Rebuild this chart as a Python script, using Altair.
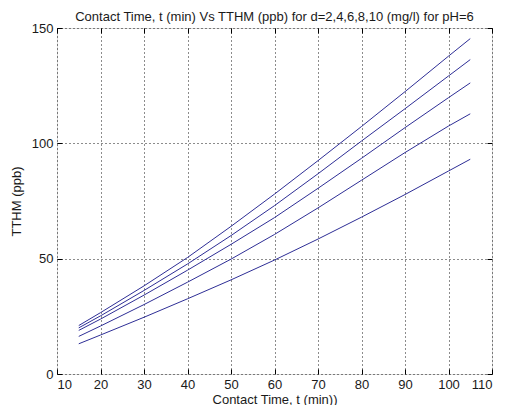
import altair as alt
import pandas as pd

# Contact time (min)
t_vals = [15, 20, 30, 40, 50, 60, 70, 80, 90, 100, 105]
# TTHM (ppb) for each dose d (mg/l)
d_labels = ["d=2", "d=4", "d=6", "d=8", "d=10"]
tthm_d2 = [13.1, 16.9, 24.6, 32.6, 40.8, 49.4, 58.5, 68.0, 77.8, 88.0, 93.1]
tthm_d4 = [16.3, 20.8, 30.1, 39.8, 49.8, 60.5, 72.0, 84.0, 96.0, 107.5, 112.8]
tthm_d6 = [18.9, 23.8, 34.2, 45.0, 56.2, 67.8, 80.5, 93.5, 106.8, 119.8, 126.2]
tthm_d8 = [20.0, 25.2, 36.2, 47.7, 60.0, 73.0, 86.8, 101.0, 115.0, 129.2, 136.3]
tthm_d10 = [21.0, 26.6, 38.2, 50.5, 64.0, 78.0, 92.5, 107.3, 122.4, 137.8, 145.4]

x_ticks = [10, 20, 30, 40, 50, 60, 70, 80, 90, 100, 110]
y_ticks = [0, 50, 100, 150]

series = [tthm_d2, tthm_d4, tthm_d6, tthm_d8, tthm_d10]
rows = []
for lab, vals in zip(d_labels, series):
    for t, v in zip(t_vals, vals):
        rows.append({"t": t, "tthm": v, "d": lab})
df = pd.DataFrame(rows)

FONT = "Liberation Sans"
FS = 13
TXT = "#1a1a1a"

xscale = alt.Scale(domain=[10, 110], nice=False, zero=False)
yscale = alt.Scale(domain=[0, 150], nice=False)

base = alt.Chart(df)

main = base.mark_line(color="#2e2e96", strokeWidth=1).encode(
    x=alt.X("t:Q", scale=xscale, axis=alt.Axis(
        values=x_ticks, grid=True, gridColor="black", gridDash=[1, 3], gridOpacity=0.9,
        ticks=False, domain=False, labelFont=FONT, labelFontSize=FS, labelColor=TXT,
        labelPadding=4, title="Contact Time, t (min))", titleFont=FONT, titleFontSize=FS,
        titleFontWeight="normal", titleColor=TXT, titlePadding=2)),
    y=alt.Y("tthm:Q", scale=yscale, axis=alt.Axis(
        values=y_ticks, grid=True, gridColor="black", gridDash=[1, 3], gridOpacity=0.9,
        ticks=False, domain=False, labelFont=FONT, labelFontSize=FS, labelColor=TXT,
        labelPadding=4, title="TTHM (ppb)", titleFont=FONT, titleFontSize=FS,
        titleFontWeight="normal", titleColor=TXT, titlePadding=8)),
    detail="d:N",
)

tick_axis = dict(labels=False, domain=False, grid=False, ticks=True, tickSize=5,
                 tickColor="black", tickWidth=1, title=None, offset=-5)

inner1 = base.mark_line(opacity=0).encode(
    x=alt.X("t:Q", scale=xscale, axis=alt.Axis(values=x_ticks, orient="top", **tick_axis)),
    y=alt.Y("tthm:Q", scale=yscale, axis=alt.Axis(values=y_ticks, orient="right", **tick_axis)),
    detail="d:N",
)
inner2 = base.mark_line(opacity=0).encode(
    x=alt.X("t:Q", scale=xscale, axis=alt.Axis(values=x_ticks, orient="bottom", **tick_axis)),
    y=alt.Y("tthm:Q", scale=yscale, axis=alt.Axis(values=y_ticks, orient="left", **tick_axis)),
    detail="d:N",
)

chart = alt.layer(main, inner1, inner2).resolve_axis(x="independent", y="independent").properties(
    width=435,
    height=346,
    title=alt.TitleParams(
        "Contact Time, t (min) Vs TTHM (ppb) for d=2,4,6,8,10 (mg/l)  for pH=6",
        font=FONT, fontSize=FS, fontWeight="normal", color=TXT, anchor="middle", offset=-2),
    autosize=alt.AutoSizeParams(type="none"),
    padding={"left": 49, "top": 20, "right": 10, "bottom": 31},
).configure_view(stroke="black", strokeWidth=1).configure(background="white")

chart.save("out.html", embed_options={"renderer": "svg", "actions": False})
